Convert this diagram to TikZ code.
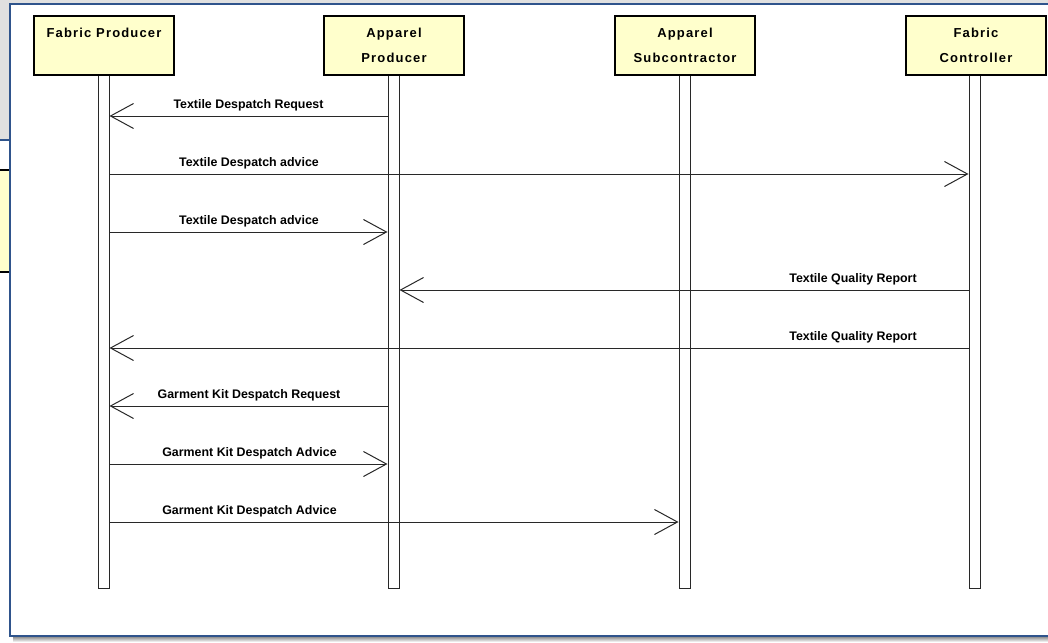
\documentclass[tikz,border=0pt]{standalone}
\usepackage{fontspec}
\setmainfont{Liberation Sans}
\usetikzlibrary{arrows.meta}
\definecolor{bgray}{RGB}{224,224,224}
\definecolor{pblue}{RGB}{47,84,140}
\definecolor{boxyel}{RGB}{255,255,204}
\definecolor{shade}{RGB}{128,128,128}
\definecolor{ink}{RGB}{40,40,40}
\begin{document}
\begin{tikzpicture}[x=1pt,y=-1pt,
  actor/.style={draw=black, line width=2pt, fill=boxyel, minimum width=140pt, minimum height=59pt, inner sep=0pt, align=center, font=\bfseries\fontsize{13}{25}\selectfont\addfontfeatures{LetterSpace=9}},
  lifebar/.style={draw=ink, line width=1pt, fill=white, minimum width=11pt, minimum height=513pt, inner sep=0pt},
  msg/.style={draw=ink, line width=1pt, -{Straight Barb[length=23pt,width=25pt,line width=1pt]}},
  msglabel/.style={anchor=base, inner sep=0pt, font=\bfseries\fontsize{12.4}{14}\selectfont}
]
\useasboundingbox (0,0) rectangle (1048,642);
\clip (0,0) rectangle (1048,642);
% background behind the panel
\fill[white] (0,0) rectangle (1048,642);
\fill[bgray] (0,0) rectangle (1048,140);
\draw[pblue, line width=1.5pt] (0,140) -- (10,140);
\fill[boxyel] (0,170) rectangle (10,272);
\draw[black, line width=2pt] (0,170) -- (10,170) (0,272) -- (10,272);
\fill[shade] (13,636) rectangle (1048,642);
% panel
\filldraw[fill=white, draw=pblue, line width=1.5pt] (10,4) rectangle (1060,636);
% lifelines
\node[lifebar] (fpl) at (103.5,331.5) {};
\node[lifebar] (apl) at (393.5,331.5) {};
\node[lifebar] (asl) at (684.5,331.5) {};
\node[lifebar] (fcl) at (974.5,331.5) {};
% actors
\node[actor] (fp) at (104,45.5) {Fabric Producer\\\mbox{}};
\node[actor] (ap) at (394,45.5) {Apparel\\Producer};
\node[actor] (as) at (685,45.5) {Apparel\\Subcontractor};
\node[actor] (fc) at (976,45.5) {Fabric\\Controller};
% message rows
\coordinate (y1) at (0,116);
\coordinate (y2) at (0,174);
\coordinate (y3) at (0,232);
\coordinate (y4) at (0,290);
\coordinate (y5) at (0,348);
\coordinate (y6) at (0,406);
\coordinate (y7) at (0,464);
\coordinate (y8) at (0,522);
\draw[msg] (apl.west |- y1) -- (fpl.east |- y1);
\draw[msg] (fpl.east |- y2) -- (fcl.west |- y2);
\draw[msg] (fpl.east |- y3) -- (apl.west |- y3);
\draw[msg] (fcl.west |- y4) -- (apl.east |- y4);
\draw[msg] (fcl.west |- y5) -- (fpl.east |- y5);
\draw[msg] (apl.west |- y6) -- (fpl.east |- y6);
\draw[msg] (fpl.east |- y7) -- (apl.west |- y7);
\draw[msg] (fpl.east |- y8) -- (asl.west |- y8);
% labels
\node[msglabel] (l1) at (248.5,108.5) {Textile Despatch Request};
\node[msglabel] (l2) at (249,166.5) {Textile Despatch advice};
\node[msglabel] (l3) at (249,224.5) {Textile Despatch advice};
\node[msglabel] (l4) at (853,282.5) {Textile Quality Report};
\node[msglabel] (l5) at (853,340.5) {Textile Quality Report};
\node[msglabel] (l6) at (249,398.5) {Garment Kit Despatch Request};
\node[msglabel] (l7) at (249.5,456.5) {Garment Kit Despatch Advice};
\node[msglabel] (l8) at (249.5,514.5) {Garment Kit Despatch Advice};
\end{tikzpicture}
\end{document}
